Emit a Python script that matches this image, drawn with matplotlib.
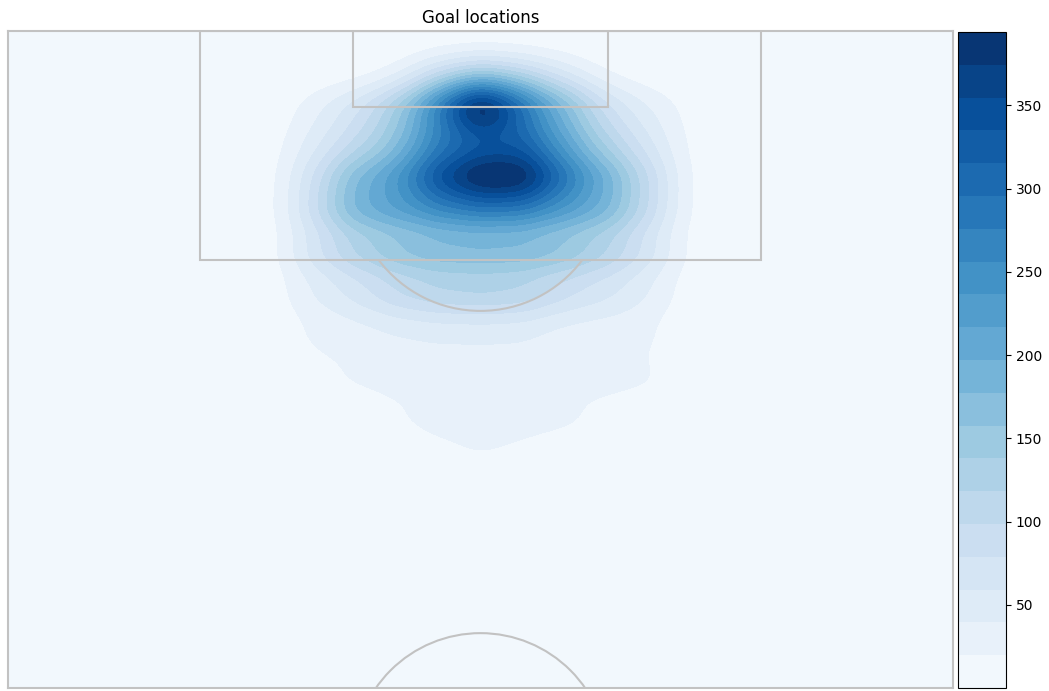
import numpy as np
import matplotlib
matplotlib.use("Agg")
import matplotlib.pyplot as plt
from matplotlib.patches import Rectangle, Arc

# goal counts, on a coarse grid (metres)
# x = across the pitch (0..68), y = distance from the goal line
grid_x = [19, 22, 25, 28, 31, 34, 37, 40, 43, 46, 49]
grid_y = [3.3, 5.5, 8, 10.5, 13, 16, 19, 22, 25, 28, 30.5]
goal_counts = [
    [0, 0, 0, 15, 85, 130, 100, 50, 10, 0, 0],
    [0, 30, 70, 135, 270, 480, 290, 175, 80, 40, 10],
    [5, 45, 90, 150, 260, 290, 310, 205, 115, 60, 10],
    [5, 75, 180, 225, 355, 430, 430, 290, 195, 100, 10],
    [5, 90, 200, 220, 255, 275, 270, 225, 195, 100, 10],
    [5, 80, 135, 175, 195, 195, 195, 175, 135, 80, 10],
    [5, 45, 70, 110, 130, 135, 130, 90, 70, 45, 5],
    [0, 28, 32, 40, 45, 45, 45, 30, 28, 28, 0],
    [0, 15, 25, 30, 32, 32, 32, 30, 30, 28, 5],
    [0, 0, 5, 20, 30, 30, 30, 28, 15, 0, 0],
    [0, 0, 0, 0, 10, 22, 12, 0, 0, 0, 0],
]
cbar_ticks = [50, 100, 150, 200, 250, 300, 350]

PITCH_W = 68.0
PITCH_L = 105.0
VIEW_DEPTH = 47.3
BW_X, BW_Y = 1.8, 1.4
PEAK_VALUE = 394.0
N_BANDS = 20

LINE_C = "#c2c2c2"


def kde_grid():
    gx = np.linspace(0, PITCH_W, 273)
    gy = np.linspace(0, VIEW_DEPTH, 190)
    X, Y = np.meshgrid(gx, gy)
    Z = np.zeros_like(X)
    for j, py in enumerate(grid_y):
        for i, px in enumerate(grid_x):
            n = goal_counts[j][i]
            if n:
                Z += n * np.exp(-0.5 * (((X - px) / BW_X) ** 2 + ((Y - py) / BW_Y) ** 2))
    Z = Z / Z.max() * PEAK_VALUE
    return X, Y, Z


def draw_pitch(ax):
    kw = dict(fill=False, ec=LINE_C, lw=1.5, zorder=3)
    # penalty box and six-yard box
    ax.add_patch(Rectangle((PITCH_W / 2 - 20.16, 0), 40.32, 16.5, **kw))
    ax.add_patch(Rectangle((PITCH_W / 2 - 9.16, 0), 18.32, 5.5, **kw))
    # penalty arc (only the part outside the box)
    ang = np.degrees(np.arccos(5.5 / 9.15))
    ax.add_patch(Arc((PITCH_W / 2, 11.0), 18.3, 18.3, theta1=90 - ang, theta2=90 + ang,
                     ec=LINE_C, lw=1.5, zorder=3))
    # centre circle
    ax.add_patch(Arc((PITCH_W / 2, PITCH_L / 2), 18.3, 18.3, theta1=180, theta2=360,
                     ec=LINE_C, lw=1.5, zorder=3))


def main():
    X, Y, Z = kde_grid()

    fig = plt.figure(figsize=(10.49, 6.91), dpi=100)
    ax = fig.add_axes([8 / 1049, 3 / 691, 945 / 1049, 657 / 691])
    cax = fig.add_axes([958 / 1049, 3 / 691, 48 / 1049, 656 / 691])

    levels = np.linspace(Z.min(), Z.max(), N_BANDS + 1)
    cs = ax.contourf(X, Y, Z, levels=levels, cmap="Blues", zorder=1)
    draw_pitch(ax)

    ax.set_xlim(0, PITCH_W)
    ax.set_ylim(VIEW_DEPTH, 0)
    ax.set_aspect("auto")
    ax.set_xticks([])
    ax.set_yticks([])
    for sp in ax.spines.values():
        sp.set_color(LINE_C)
        sp.set_linewidth(1.5)
    ax.set_title("Goal locations", fontsize=12)

    cb = fig.colorbar(cs, cax=cax)
    cb.set_ticks(cbar_ticks)

    fig.savefig("out.png", dpi=100)
    plt.close(fig)


if __name__ == "__main__":
    main()
